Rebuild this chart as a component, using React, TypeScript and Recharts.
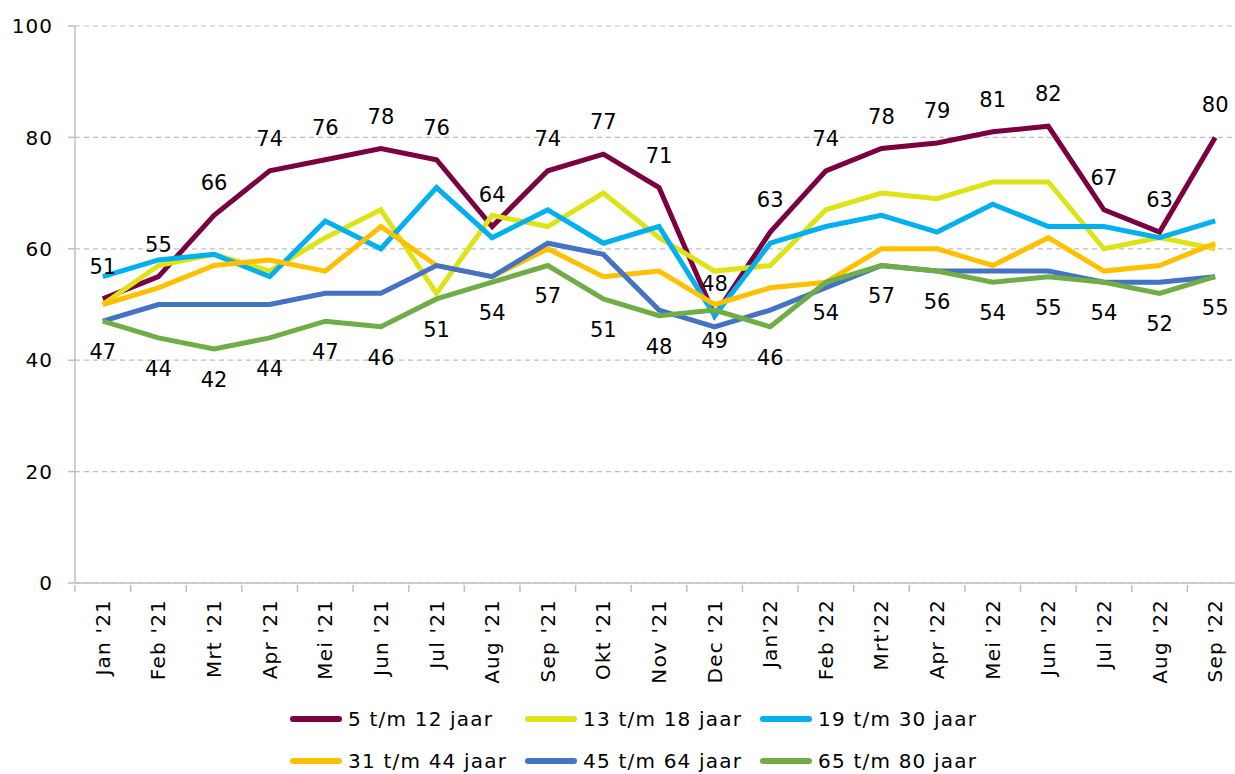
import React from "react";
import { CartesianGrid, LabelList, Line, LineChart, XAxis, YAxis } from "recharts";

const months = [
  "Jan '21", "Feb '21", "Mrt '21", "Apr '21", "Mei '21", "Jun '21", "Jul '21",
  "Aug '21", "Sep '21", "Okt '21", "Nov '21", "Dec '21", "Jan'22", "Feb '22",
  "Mrt'22", "Apr '22", "Mei '22", "Jun '22", "Jul '22", "Aug '22", "Sep '22",
];

const age5to12 = [51, 55, 66, 74, 76, 78, 76, 64, 74, 77, 71, 48, 63, 74, 78, 79, 81, 82, 67, 63, 80];
const age13to18 = [50, 57, 59, 56, 62, 67, 52, 66, 64, 70, 62, 56, 57, 67, 70, 69, 72, 72, 60, 62, 60];
const age19to30 = [55, 58, 59, 55, 65, 60, 71, 62, 67, 61, 64, 48, 61, 64, 66, 63, 68, 64, 64, 62, 65];
const age31to44 = [50, 53, 57, 58, 56, 64, 57, 55, 60, 55, 56, 50, 53, 54, 60, 60, 57, 62, 56, 57, 61];
const age45to64 = [47, 50, 50, 50, 52, 52, 57, 55, 61, 59, 49, 46, 49, 53, 57, 56, 56, 56, 54, 54, 55];
const age65to80 = [47, 44, 42, 44, 47, 46, 51, 54, 57, 51, 48, 49, 46, 54, 57, 56, 54, 55, 54, 52, 55];

const yTicks = [0, 20, 40, 60, 80, 100];

const series = [
  { key: "a", name: "5 t/m 12 jaar", color: "#7A0040", values: age5to12 },
  { key: "b", name: "13 t/m 18 jaar", color: "#DDE314", values: age13to18 },
  { key: "c", name: "19 t/m 30 jaar", color: "#00B0F0", values: age19to30 },
  { key: "d", name: "31 t/m 44 jaar", color: "#FFC000", values: age31to44 },
  { key: "e", name: "45 t/m 64 jaar", color: "#4472C4", values: age45to64 },
  { key: "f", name: "65 t/m 80 jaar", color: "#70AD47", values: age65to80 },
];

const data = months.map((m, i) => {
  const row: any = { month: m };
  series.forEach((s) => (row[s.key] = s.values[i]));
  return row;
});

const W = 1250;
const H = 774;
const LEFT = 75;
const RIGHT = 7;
const TOP = 26;
const XAXIS_H = 191;
const half = (W - LEFT - RIGHT) / months.length / 2;
const font = "'DejaVu Sans', sans-serif";
const axisGray = "#BFBFBF";

const XTick = (props: any) => {
  const { x, y, payload } = props;
  return (
    <g>
      <line x1={x - half} y1={y} x2={x - half} y2={y + 7} stroke={axisGray} strokeWidth={1.5} />
      <text
        transform={`translate(${x},${y + 14}) rotate(-90)`}
        textAnchor="end"
        dominantBaseline="central"
        fontSize={20}
        fontFamily={font}
        fill="#000"
        style={{ letterSpacing: 1.2 }}
      >
        {payload.value}
      </text>
    </g>
  );
};

export default function App() {
  return (
    <div style={{ position: "absolute", left: 0, top: 0, width: 1235, height: H, overflow: "hidden", background: "#fff" }}>
      <LineChart width={W} height={H} data={data} margin={{ top: TOP, right: RIGHT, left: 0, bottom: 0 }}>
        <CartesianGrid vertical={false} stroke={axisGray} strokeDasharray="5 4" strokeWidth={1.2} />
        <XAxis
          dataKey="month"
          height={XAXIS_H}
          interval={0}
          padding={{ left: half, right: half }}
          axisLine={{ stroke: axisGray, strokeWidth: 1.5 }}
          tickLine={false}
          tickSize={0}
          tick={<XTick />}
        />
        <YAxis
          width={LEFT}
          domain={[0, 100]}
          ticks={yTicks}
          interval={0}
          axisLine={{ stroke: axisGray, strokeWidth: 1.5 }}
          tickLine={{ stroke: axisGray, strokeWidth: 1.5 }}
          tickSize={7}
          tickMargin={15}
          tick={{ fill: "#000", fontSize: 20, fontFamily: font, style: { letterSpacing: 1 } }}
        />
        {series.map((s) => (
          <Line
            key={s.key}
            dataKey={s.key}
            name={s.name}
            stroke={s.color}
            strokeWidth={5}
            dot={false}
            activeDot={false}
            strokeLinejoin="miter"
            isAnimationActive={false}
          >
            {s.key === "a" && (
              <LabelList dataKey="a" position="top" offset={25} fill="#000" fontSize={21} fontFamily={font} />
            )}
            {s.key === "f" && (
              <LabelList dataKey="f" position="bottom" offset={23} fill="#000" fontSize={21} fontFamily={font} />
            )}
          </Line>
        ))}
      </LineChart>
      <div
        style={{
          position: "absolute",
          left: 290,
          top: 698,
          width: 720,
          display: "flex",
          flexWrap: "wrap",
          fontFamily: font,
          fontSize: 20,
          letterSpacing: 1.2,
          lineHeight: "42px",
        }}
      >
        {series.map((s) => (
          <div key={s.key} style={{ width: 235, display: "flex", alignItems: "center" }}>
            <span style={{ width: 52, height: 6, borderRadius: 3, background: s.color, marginRight: 6 }} />
            <span>{s.name}</span>
          </div>
        ))}
      </div>
    </div>
  );
}
